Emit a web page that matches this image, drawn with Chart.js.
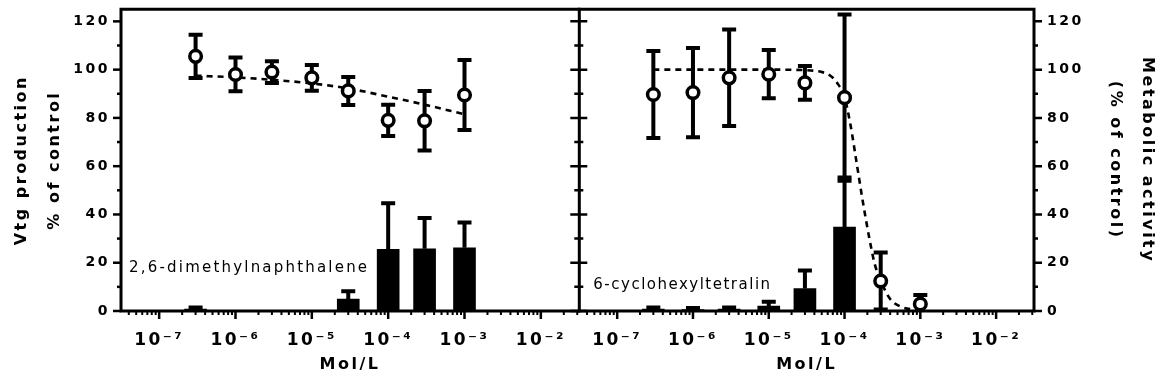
<!DOCTYPE html>
<html>
<head>
<meta charset="utf-8">
<script src="https://cdn.jsdelivr.net/npm/chart.js@4.4.1/dist/chart.umd.min.js"></script>
<style>
  body { margin: 0; background: #fff; }
  #wrap { position: relative; width: 1167px; height: 389px; overflow: hidden; }
  canvas { position: absolute; top: 0; }
  #leftChart { left: 0; }
  #rightChart { left: 570px; }
</style>
</head>
<body>
<div id="wrap">
  <canvas id="leftChart" width="590" height="389"></canvas>
  <canvas id="rightChart" width="597" height="389"></canvas>
</div>
<script>
// concentrations tested (mol/L), same for both compounds
var conc = [3e-7, 1e-6, 3e-6, 1e-5, 3e-5, 1e-4, 3e-4, 1e-3];

// 2,6-dimethylnaphthalene
var dmnCircles = [105.5, 98, 99, 96.6, 91.2, 79, 78.8, 89.5];
var dmnCirclesErr = [9, 7, 4.5, 5.3, 5.8, 6.5, 12.3, 14.5];
var dmnBars = [0.8, null, null, null, 4.9, 25.6, 25.8, 26.2];
var dmnBarsErr = [0.6, null, null, null, 3.3, 19, 12.7, 10.5];
var dmnFitX = [3e-7, 1e-6, 3e-6, 1e-5, 3e-5, 1e-4, 3e-4, 1e-3];
var dmnFitY = [97.5, 96.8, 95.8, 94.3, 92.2, 88.8, 85.5, 81.5];

// 6-cyclohexyltetralin
var chtCircles = [89.7, 90.5, 96.6, 98.1, 94.5, 88.4, 12.4, 2.9];
var chtCirclesErr = [18, 18.5, 20, 10, 7, 34.4, 11.8, 3.7];
var chtBars = [0.8, 0.6, 0.8, 2, 9.3, 34.8, null, null];
var chtBarsErr = [0.6, 0.6, 0.6, 1.8, 7.5, 20.5, null, null];
var chtFitX = [3e-7, 1e-6, 3e-6, 1e-5, 3e-5, 5e-5, 6.5e-5, 8e-5, 1e-4, 1.2e-4, 1.45e-4, 1.75e-4, 2.1e-4, 2.5e-4, 3e-4, 4e-4, 5.5e-4, 1e-3];
var chtFitY = [100, 100, 100, 100, 99.8, 99, 97.5, 94.5, 88.5, 77, 61, 45, 31, 19.5, 12.5, 5, 1.8, 0.3];

// axis ticks
var xDecades = [-7, -6, -5, -4, -3, -2];
var yTicks = [0, 20, 40, 60, 80, 100, 120];

var FONT = '"DejaVu Sans", sans-serif';
Chart.defaults.font.family = FONT;
Chart.defaults.color = '#000';

var SUP = { '-': '\u207B', '0': '\u2070', '1': '\u00B9', '2': '\u00B2', '3': '\u00B3', '4': '\u2074',
            '5': '\u2075', '6': '\u2076', '7': '\u2077', '8': '\u2078', '9': '\u2079' };

function sup(s) {
    return s.split('').map(function (c) { return SUP[c]; }).join('');
}

function isDecade(v) {
    var l = Math.log10(v);
    return Math.abs(l - Math.round(l)) < 1e-9;
}

function points(xs, ys, errs) {
    var out = [];
    for (var i = 0; i < xs.length; i++) {
        if (ys[i] === null) continue;
        out.push({ x: xs[i], y: ys[i], err: errs ? errs[i] : null });
    }
    return out;
}

// log ticks: decades plus 2..9 minor ticks
function logTicks(scale) {
    var list = [];
    for (var d = xDecades[0] - 1; d <= xDecades[xDecades.length - 1]; d++) {
        for (var m = 1; m <= 9; m++) {
            var v = Number(m + 'e' + d);
            if (v >= scale.min && v <= scale.max) list.push({ value: v });
        }
    }
    scale.ticks = list;
}

function linTicks(scale) {
    var list = [];
    yTicks.forEach(function (v, i) {
        list.push({ value: v });
        if (i < yTicks.length - 1) list.push({ value: (v + yTicks[i + 1]) / 2 });
    });
    scale.ticks = list;
}

// error bars drawn under the markers
var errorBars = {
    id: 'errorBars',
    beforeDatasetDraw: function (chart, args) {
        var ds = chart.data.datasets[args.index];
        if (!ds.showErrors) return;
        var y = chart.scales.y, ctx = chart.ctx, a = chart.chartArea;
        ctx.save();
        ctx.beginPath();
        ctx.rect(a.left - 20, a.top - 10, a.right - a.left + 40, a.bottom - a.top + 10);
        ctx.clip();
        ctx.strokeStyle = '#000';
        ctx.lineWidth = 4;
        args.meta.data.forEach(function (el, i) {
            var d = ds.data[i];
            if (d.err == null) return;
            var top = y.getPixelForValue(d.y + d.err);
            var bottom = ds.type === 'bar' ? y.getPixelForValue(d.y) : y.getPixelForValue(d.y - d.err);
            ctx.beginPath();
            ctx.moveTo(el.x, top);
            ctx.lineTo(el.x, bottom);
            ctx.moveTo(el.x - 7, top);
            ctx.lineTo(el.x + 7, top);
            if (ds.type !== 'bar') {
                ctx.moveTo(el.x - 7, bottom);
                ctx.lineTo(el.x + 7, bottom);
            }
            ctx.stroke();
        });
        ctx.restore();
    }
};

// axis frame, tick marks and the compound name
var frame = {
    id: 'frame',
    beforeUpdate: function (chart) { chart.ctx.letterSpacing = '2.5px'; },
    beforeDraw: function (chart) { chart.ctx.letterSpacing = '2.5px'; },
    afterDraw: function (chart, args, opts) {
        var ctx = chart.ctx, a = chart.chartArea, x = chart.scales.x, y = chart.scales.y;
        ctx.save();
        ctx.strokeStyle = '#000';
        ctx.lineWidth = 3;
        ctx.lineCap = 'square';
        ctx.beginPath();
        ctx.moveTo(a.left, a.top); ctx.lineTo(a.right, a.top);
        ctx.moveTo(a.left, a.bottom); ctx.lineTo(a.right, a.bottom);
        ctx.moveTo(a.left, a.top); ctx.lineTo(a.left, a.bottom);
        if (opts.side === 'right') { ctx.moveTo(a.right, a.top); ctx.lineTo(a.right, a.bottom); }
        ctx.stroke();

        ctx.lineCap = 'butt';
        x.ticks.forEach(function (t) {
            var px = x.getPixelForValue(t.value);
            var major = isDecade(t.value);
            ctx.lineWidth = major ? 2.5 : 2;
            ctx.beginPath();
            ctx.moveTo(px, a.bottom);
            ctx.lineTo(px, a.bottom + (major ? 8 : 4));
            ctx.stroke();
        });
        y.ticks.forEach(function (t) {
            var py = y.getPixelForValue(t.value);
            var len = yTicks.indexOf(t.value) >= 0 ? 8 : 4;
            ctx.lineWidth = 2.5;
            ctx.beginPath();
            if (opts.side === 'left') {
                ctx.moveTo(a.left - len, py); ctx.lineTo(a.left, py);
            } else {
                ctx.moveTo(a.left - len - 1, py); ctx.lineTo(a.left + len, py);
                ctx.moveTo(a.right, py); ctx.lineTo(a.right + len, py);
            }
            ctx.stroke();
        });

        ctx.font = '15px ' + FONT;
        ctx.letterSpacing = opts.noteSpacing + 'px';
        ctx.fillStyle = '#000';
        ctx.textAlign = 'left';
        ctx.textBaseline = 'middle';
        ctx.fillText(opts.note, a.left + opts.noteDx, y.getPixelForValue(opts.noteAt));
        ctx.restore();
    }
};

function datasets(circles, circlesErr, bars, barsErr, fitX, fitY) {
    return [{
        type: 'line',
        data: points(conc, circles, circlesErr),
        showLine: false,
        showErrors: true,
        pointRadius: 5.8,
        pointBorderWidth: 3.5,
        pointBackgroundColor: '#fff',
        pointBorderColor: '#000',
        clip: false,
        order: 0
    }, {
        type: 'line',
        data: points(fitX, fitY),
        borderColor: '#000',
        borderWidth: 2.6,
        borderDash: [6, 5],
        pointRadius: 0,
        cubicInterpolationMode: 'monotone',
        fill: false,
        order: 1
    }, {
        type: 'bar',
        data: points(conc, bars, barsErr),
        backgroundColor: '#000',
        barThickness: 22,
        showErrors: true,
        order: 2
    }];
}

function options(side) {
    var titleFont = { size: 16, weight: 'bold' };
    var yTitle = side === 'left'
        ? { display: true, text: ['Vtg production', '% of control'], font: { size: 16, weight: 'bold', lineHeight: 2.0625 }, padding: { top: 5, bottom: 0 } }
        : { display: true, text: ['Metabolic activity', '(% of control)'], font: { size: 16, weight: 'bold', lineHeight: 2 }, padding: { top: 4, bottom: 0 } };
    return {
        responsive: false,
        animation: false,
        events: [],
        layout: { padding: side === 'left' ? { left: 0, top: 7, right: 11, bottom: 0 } : { left: 9, top: 7, right: 0, bottom: 0 } },
        plugins: {
            legend: { display: false },
            tooltip: { enabled: false },
            frame: side === 'left'
                ? { side: 'left', note: '2,6-dimethylnaphthalene', noteDx: 8, noteAt: 17.7, noteSpacing: 2.2 }
                : { side: 'right', note: '6-cyclohexyltetralin', noteDx: 14, noteAt: 10.7, noteSpacing: 1.5 }
        },
        scales: {
            x: {
                type: 'logarithmic',
                min: Math.pow(10, -7.5),
                max: Math.pow(10, -1.5),
                bounds: 'data',
                offset: false,
                grid: { display: false, drawTicks: false },
                border: { display: false },
                afterBuildTicks: logTicks,
                afterFit: function (s) { s.height = 78; s.paddingLeft = 0; s.paddingRight = 0; },
                ticks: {
                    autoSkip: false,
                    maxRotation: 0,
                    padding: 19,
                    font: { size: 17, weight: 'bold' },
                    callback: function (v) {
                        var e = Math.round(Math.log10(v));
                        return isDecade(v) && xDecades.indexOf(e) >= 0 ? '10' + sup(String(e)) : '';
                    }
                },
                title: { display: true, text: 'Mol/L', font: titleFont, padding: { top: 0, bottom: 15 } }
            },
            y: {
                position: side,
                min: 0,
                max: 125,
                bounds: 'data',
                grid: { display: false, drawTicks: false },
                border: { display: false },
                afterBuildTicks: linTicks,
                afterFit: function (s) { s.width = side === 'left' ? 121 : 133; s.paddingTop = 0; s.paddingBottom = 0; },
                ticks: {
                    padding: side === 'left' ? 11 : 13,
                    font: { size: 14, weight: 'bold' },
                    callback: function (v) { return yTicks.indexOf(v) >= 0 ? String(v) : ''; }
                },
                title: yTitle
            }
        }
    };
}

new Chart(document.getElementById('leftChart').getContext('2d'), {
    type: 'line',
    data: { datasets: datasets(dmnCircles, dmnCirclesErr, dmnBars, dmnBarsErr, dmnFitX, dmnFitY) },
    options: options('left'),
    plugins: [frame, errorBars]
});

new Chart(document.getElementById('rightChart').getContext('2d'), {
    type: 'line',
    data: { datasets: datasets(chtCircles, chtCirclesErr, chtBars, chtBarsErr, chtFitX, chtFitY) },
    options: options('right'),
    plugins: [frame, errorBars]
});
</script>
</body>
</html>
